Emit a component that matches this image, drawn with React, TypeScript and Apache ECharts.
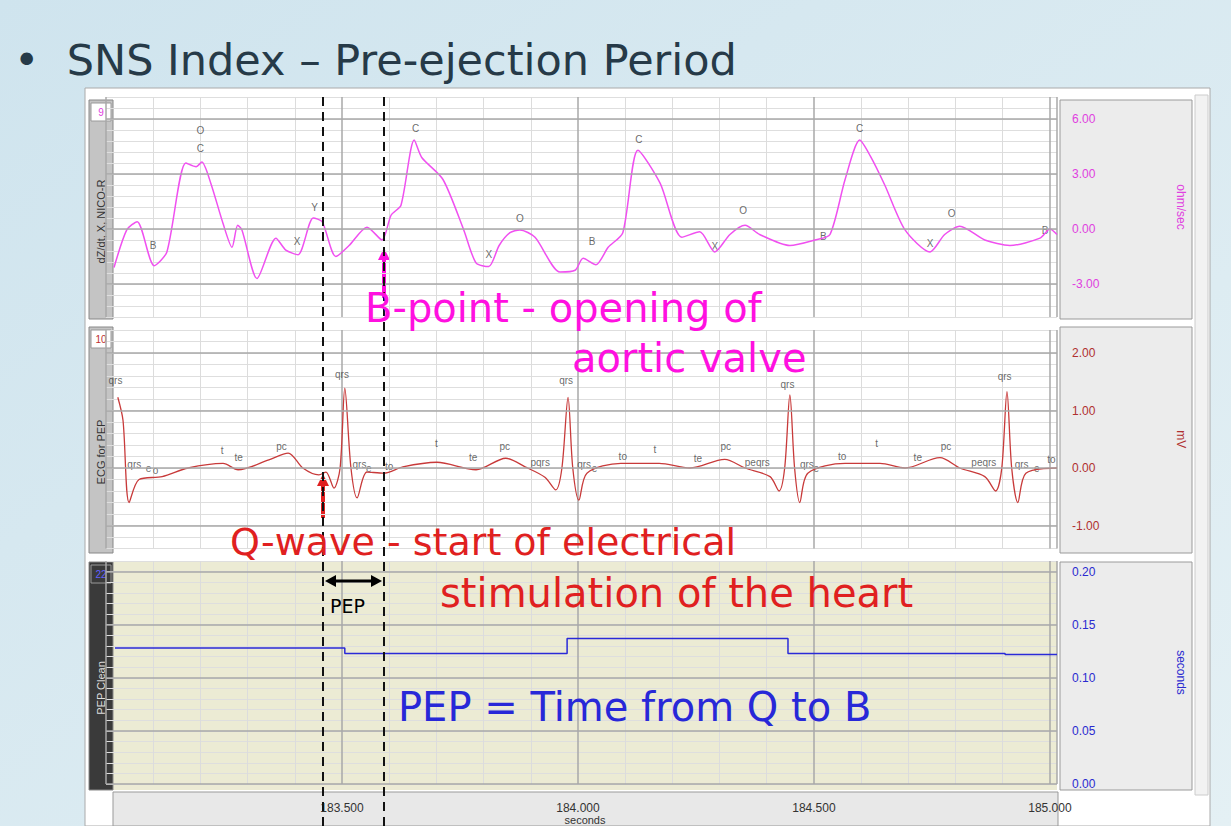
import React, { useEffect, useRef } from 'react';
import * as echarts from 'echarts';

// dZ/dt impedance trace [seconds, ohm/sec]
const dzdt: number[][] = [
  [183.017, -2.1], [183.044, -0.05], [183.066, 0.4], [183.102, -2.0], [183.129, -1.25],
  [183.169, 3.6], [183.191, 3.4], [183.203, 3.65], [183.222, 2.5], [183.248, 0.3],
  [183.267, -1.0], [183.279, 0.2], [183.288, -0.05], [183.32, -2.7], [183.36, -0.5],
  [183.381, -1.15], [183.407, -1.4], [183.439, 0.6], [183.458, 0.4], [183.487, -1.5],
  [183.515, -0.9], [183.553, 0.1], [183.585, -0.6], [183.604, 0.75], [183.625, 1.3],
  [183.653, 4.85], [183.669, 3.9], [183.714, 2.7], [183.758, -0.05], [183.784, -1.85],
  [183.811, -2.05], [183.833, -0.9], [183.856, -0.2], [183.877, -0.05], [183.909, -0.45],
  [183.962, -2.35], [183.994, -2.25], [184.011, -1.6], [184.038, -1.95], [184.064, -1.0],
  [184.095, -0.2], [184.127, 4.3], [184.174, 2.5], [184.22, -0.45], [184.258, -0.15],
  [184.29, -1.25], [184.322, -0.3], [184.354, 0.2], [184.385, -0.3], [184.449, -0.9],
  [184.502, -0.6], [184.534, -0.3], [184.566, 2.7], [184.597, 4.85], [184.619, 4.0],
  [184.65, 2.4], [184.693, -0.05], [184.746, -1.25], [184.777, -0.3], [184.809, 0.15],
  [184.862, -0.6], [184.915, -0.9], [184.979, -0.5], [185.0, 0.0], [185.015, -0.3],
];

// ECG trace [seconds, mV]
const ecg: number[][] = [
  [183.025, 1.23], [183.036, 0.83], [183.049, -0.6], [183.07, -0.2], [183.119, -0.15],
  [183.174, 0.0], [183.248, 0.08], [183.28, -0.03], [183.345, 0.14], [183.386, 0.26],
  [183.417, 0.0], [183.451, -0.12], [183.466, -0.07], [183.483, -0.35], [183.496, 0.0],
  [183.506, 1.39], [183.519, 0.0], [183.532, -0.52], [183.553, -0.07], [183.589, -0.09],
  [183.629, 0.02], [183.701, 0.1], [183.784, -0.03], [183.847, 0.17], [183.888, 0.02],
  [183.93, -0.16], [183.953, -0.38], [183.966, 0.0], [183.979, 1.23], [183.989, 0.0],
  [184.002, -0.56], [184.019, -0.09], [184.091, 0.08], [184.172, 0.08], [184.237, 0.0],
  [184.311, 0.15], [184.354, 0.0], [184.407, -0.15], [184.426, -0.4], [184.438, 0.0],
  [184.449, 1.27], [184.459, 0.0], [184.47, -0.6], [184.487, -0.09], [184.566, 0.08],
  [184.64, 0.08], [184.693, 0.0], [184.767, 0.18], [184.809, 0.0], [184.862, -0.15],
  [184.885, -0.4], [184.898, 0.0], [184.909, 1.33], [184.919, 0.0], [184.932, -0.6],
  [184.949, -0.09], [185.015, 0.0],
];

// PEP Clean [seconds, seconds]
const pep: number[][] = [
  [183.019, 0.128], [183.506, 0.123], [183.977, 0.137], [184.445, 0.123], [184.905, 0.122], [185.015, 0.122],
];

// event labels
const dzLabels: (number | string)[][] = [
  [183.2, 4.4, 'C'], [183.2, 5.4, 'O'], [183.1, -0.9, 'B'], [183.442, 1.2, 'Y'], [183.405, -0.7, 'X'],
  [183.656, 5.5, 'C'], [183.877, 0.55, 'O'], [183.811, -1.4, 'X'], [184.03, -0.7, 'B'],
  [184.129, 4.9, 'C'], [184.29, -0.95, 'X'], [184.35, 1.0, 'O'], [184.52, -0.4, 'B'],
  [184.597, 5.5, 'C'], [184.746, -0.8, 'X'], [184.792, 0.85, 'O'], [184.99, -0.1, 'B'],
];
const ecgLabels: (number | string)[][] = [
  [183.02, 1.53, 'qrs'], [183.5, 1.62, 'qrs'], [183.975, 1.53, 'qrs'], [184.444, 1.45, 'qrs'], [184.904, 1.59, 'qrs'],
  [183.06, 0.06, 'qrs'], [183.09, 0.0, 'e'], [183.105, -0.04, 'o'],
  [183.246, 0.3, 't'], [183.281, 0.18, 'te'], [183.372, 0.38, 'pc'],
  [183.537, 0.06, 'qrs'], [183.557, 0.0, 'e'], [183.6, 0.02, 'to'], [183.7, 0.42, 't'],
  [183.778, 0.18, 'te'], [183.845, 0.38, 'pc'], [183.92, 0.1, 'pqrs'],
  [184.013, 0.06, 'qrs'], [184.035, 0.0, 'e'], [184.095, 0.2, 'to'], [184.163, 0.32, 't'],
  [184.254, 0.16, 'te'], [184.313, 0.38, 'pc'], [184.38, 0.1, 'peqrs'],
  [184.485, 0.06, 'qrs'], [184.505, 0.0, 'e'], [184.56, 0.2, 'to'], [184.633, 0.42, 't'],
  [184.72, 0.18, 'te'], [184.78, 0.38, 'pc'], [184.86, 0.1, 'peqrs'],
  [184.94, 0.06, 'qrs'], [184.972, 0.0, 'e'], [185.003, 0.15, 'to'],
];

const yTickLabels1 = [6, 3, 0, -3];
const yTickLabels2 = [2, 1, 0, -1];
const yTickLabels3 = [0.2, 0.15, 0.1, 0.05, 0];
const xTickLabels = [183.5, 184.0, 184.5, 185.0];

const tMin = 183.0;
const tMax = 185.015;
const gridLeft = 106;
const gridRight = 174;

const near = (v: number, arr: number[]) => arr.some(a => Math.abs(a - v) < 1e-6);

const App: React.FC = () => {
  const chartRef = useRef<HTMLDivElement>(null);

  useEffect(() => {
    if (!chartRef.current) return;
    const chart = echarts.init(chartRef.current, null, { renderer: 'svg' });

    const xBase = (gi: number, showLabels: boolean) => ({
      type: 'value',
      gridIndex: gi,
      min: tMin,
      max: tMax,
      interval: 0.5,
      axisLine: { show: false },
      axisTick: { show: false },
      axisLabel: showLabels
        ? {
            show: true,
            showMinLabel: false,
            margin: 18,
            color: '#333',
            fontSize: 12,
            fontFamily: 'Liberation Sans',
            formatter: (v: number) => (near(v, xTickLabels) ? v.toFixed(3) : ''),
          }
        : { show: false },
      splitLine: { show: true, lineStyle: { color: '#a8a8a8', width: 1.5 } },
      minorTick: { show: false, splitNumber: 5 },
      minorSplitLine: { show: true, lineStyle: { color: '#dcdcdc' } },
    });

    const yBase = (gi: number, min: number, max: number, interval: number, labels: number[], color: string, name: string, digits: number) => ({
      type: 'value',
      gridIndex: gi,
      position: 'right',
      min,
      max,
      interval,
      axisLine: { show: false },
      axisTick: { show: false },
      axisLabel: {
        margin: 15,
        color,
        fontSize: 12,
        fontFamily: 'Liberation Sans',
        formatter: (v: number) => (near(v, labels) ? v.toFixed(digits) : ''),
      },
      splitLine: { show: true, lineStyle: { color: '#dedede' } },
      name,
      nameLocation: 'middle',
      nameRotate: -90,
      nameGap: 118,
      nameTextStyle: { color, fontSize: 12, fontFamily: 'Liberation Sans' },
    });

    const majorLines = (vals: number[]) => ({
      silent: true,
      symbol: 'none',
      label: { show: false },
      lineStyle: { color: '#a8a8a8', type: 'solid', width: 1.5 },
      data: vals.map(v => ({ yAxis: v })),
    });

    const bigText = (x: number, y: number, text: string, color: string, size: number) => ({
      type: 'text',
      x,
      y,
      z: 200,
      style: { text, fill: color, fontSize: size, fontFamily: 'DejaVu Sans', textVerticalAlign: 'middle' },
    });

    const arrowUp = (x: number, y1: number, y2: number, color: string) => ({
      type: 'group',
      z: 200,
      children: [
        { type: 'line', shape: { x1: x, y1, x2: x, y2: y2 + 8 }, style: { stroke: color, lineWidth: 4 } },
        { type: 'polygon', shape: { points: [[x - 6, y2 + 12], [x + 6, y2 + 12], [x, y2]] }, style: { fill: color } },
      ],
    });

    const strip = (y: number, h: number, num: string, numColor: string, label: string, dark: boolean) => ({
      type: 'group',
      z: 150,
      children: [
        { type: 'rect', shape: { x: 89, y, width: 24, height: h }, style: { fill: dark ? '#3a3a3a' : '#c4c4c4', stroke: '#888' } },
        { type: 'rect', shape: { x: 91, y: y + 3, width: 20, height: 18 }, style: { fill: dark ? '#3a3a3a' : '#fff', stroke: '#999' } },
        { type: 'text', x: 101, y: y + 12, style: { text: num, fill: numColor, fontSize: 10, fontFamily: 'Liberation Sans', align: 'center', verticalAlign: 'middle' } },
        { type: 'text', x: 101, y: y + 24 + (h - 24) / 2, rotation: Math.PI / 2, style: { text: label, fill: dark ? '#ddd' : '#333', fontSize: 11, fontFamily: 'Liberation Sans', align: 'center', verticalAlign: 'middle' } },
      ],
    });

    const sidePanel = (y: number, h: number) => ({
      type: 'rect',
      z: -5,
      shape: { x: 1060, y, width: 132, height: h },
      style: { fill: '#ececec', stroke: '#9a9a9a' },
    });

    const option: any = {
      animation: false,
      backgroundColor: 'transparent',
      textStyle: { fontFamily: 'Liberation Sans' },
      grid: [
        { left: gridLeft, right: gridRight, top: 97, height: 220 },
        { left: gridLeft, right: gridRight, top: 330, height: 218.5 },
        { left: gridLeft, right: gridRight, top: 561, height: 223 },
      ],
      xAxis: [xBase(0, false), xBase(1, false), xBase(2, true)],
      yAxis: [
        yBase(0, -4.8, 7.2, 0.6, yTickLabels1, '#e040e0', 'ohm/sec', 2),
        yBase(1, -1.4, 2.4, 0.2, yTickLabels2, '#b03030', 'mV', 2),
        yBase(2, 0, 0.21, 0.01, yTickLabels3, '#2a2ad0', 'seconds', 2),
      ],
      graphic: [
        {
          type: 'rect', z: -20, shape: { x: 0, y: 0, width: 1231, height: 826 },
          style: { fill: new echarts.graphic.LinearGradient(0, 0, 1, 1, [{ offset: 0, color: '#cfe4ee' }, { offset: 1, color: '#e4f0f4' }]) },
        },
        { type: 'text', x: 14, y: 60, z: 10, style: { text: '•  SNS Index – Pre-ejection Period', fill: '#263a48', fontSize: 43, fontFamily: 'DejaVu Sans', verticalAlign: 'middle' } },
        { type: 'rect', z: -15, shape: { x: 85, y: 88, width: 1125, height: 738 }, style: { fill: '#ffffff', stroke: '#aaa' } },
        { type: 'rect', z: -10, shape: { x: 106, y: 561, width: 951, height: 229 }, style: { fill: '#ecebd4' } },
        { type: 'rect', z: -5, shape: { x: 1195, y: 95, width: 13, height: 700 }, style: { fill: '#f2f2f2', stroke: '#ccc' } },
        sidePanel(100, 219),
        sidePanel(327, 226),
        sidePanel(562, 228),
        { type: 'rect', z: -5, shape: { x: 113, y: 792, width: 945, height: 34 }, style: { fill: '#e8e8e8', stroke: '#999' } },
        { type: 'text', x: 585, y: 820, z: 160, style: { text: 'seconds', fill: '#333', fontSize: 11, fontFamily: 'Liberation Sans', align: 'center', verticalAlign: 'middle' } },
        strip(100, 219, '9', '#e040e0', 'dZ/dt, X, NICO-R', false),
        strip(327, 226, '10', '#c03030', 'ECG for PEP', false),
        strip(562, 228, '22', '#6060ff', 'PEP Clean', true),
        { type: 'line', z: 190, shape: { x1: 323, y1: 97, x2: 323, y2: 826 }, style: { stroke: '#111', lineWidth: 2, lineDash: [9, 6] } },
        { type: 'line', z: 190, shape: { x1: 384, y1: 97, x2: 384, y2: 826 }, style: { stroke: '#111', lineWidth: 2, lineDash: [9, 6] } },
        arrowUp(384, 298, 248, '#ff10e0'),
        arrowUp(323, 518, 474, '#e02020'),
        { type: 'line', z: 200, shape: { x1: 332, y1: 581, x2: 375, y2: 581 }, style: { stroke: '#000', lineWidth: 3 } },
        { type: 'polygon', z: 200, shape: { points: [[325, 581], [336, 575], [336, 587]] }, style: { fill: '#000' } },
        { type: 'polygon', z: 200, shape: { points: [[382, 581], [371, 575], [371, 587]] }, style: { fill: '#000' } },
        { type: 'text', x: 330, y: 606, z: 200, style: { text: 'PEP', fill: '#000', fontSize: 19, fontFamily: 'DejaVu Sans', verticalAlign: 'middle' } },
        bigText(365, 308, 'B-point - opening of', '#ff10e0', 40),
        bigText(572, 358, 'aortic valve', '#ff10e0', 40),
        bigText(230, 542, 'Q-wave - start of electrical', '#e02020', 38),
        bigText(440, 593, 'stimulation of the heart', '#e02020', 40),
        bigText(398, 707, 'PEP = Time from Q to B', '#2828d8', 40),
      ],
      series: [
        {
          type: 'line', xAxisIndex: 0, yAxisIndex: 0, data: dzdt, showSymbol: false, smooth: 0.25,
          lineStyle: { color: '#f050f0', width: 1.5 }, markLine: majorLines(yTickLabels1),
        },
        {
          type: 'line', xAxisIndex: 1, yAxisIndex: 1, data: ecg, showSymbol: false, smooth: 0.3,
          lineStyle: { color: '#c83a3a', width: 1.3 }, markLine: majorLines(yTickLabels2),
        },
        {
          type: 'line', xAxisIndex: 2, yAxisIndex: 2, data: pep, showSymbol: false, step: 'end',
          lineStyle: { color: '#2a2ad8', width: 1.5 }, markLine: majorLines(yTickLabels3),
        },
        {
          type: 'scatter', xAxisIndex: 0, yAxisIndex: 0, data: dzLabels, symbolSize: 0, silent: true,
          label: { show: true, formatter: (p: any) => p.data[2], color: '#444', fontSize: 10, fontFamily: 'Liberation Sans' },
        },
        {
          type: 'scatter', xAxisIndex: 1, yAxisIndex: 1, data: ecgLabels, symbolSize: 0, silent: true,
          label: { show: true, formatter: (p: any) => p.data[2], color: '#444', fontSize: 10, fontFamily: 'Liberation Sans' },
        },
      ],
    };

    chart.setOption(option);
    return () => chart.dispose();
  }, []);

  return <div ref={chartRef} style={{ position: 'absolute', left: 0, top: 0, width: 1231, height: 826 }} />;
};

export default App;
